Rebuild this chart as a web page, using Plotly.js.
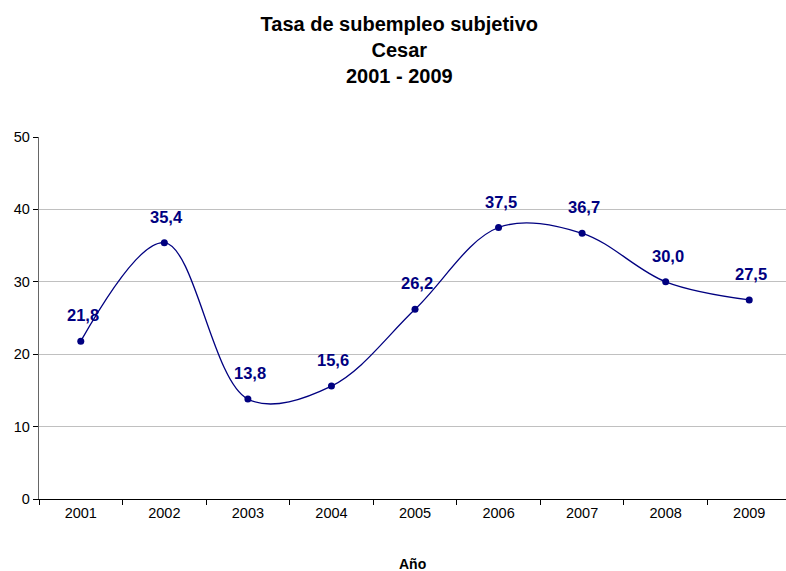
<!DOCTYPE html>
<html><head><meta charset="utf-8">
<script src="https://cdn.plot.ly/plotly-3.0.1.min.js"></script>
<style>html,body{margin:0;padding:0;background:#fff;overflow:hidden}</style>
</head><body><div id="chart" style="width:786px;height:571px"></div>
<script>
var years = ['2001','2002','2003','2004','2005','2006','2007','2008','2009'];
var values = [21.8, 35.4, 13.8, 15.6, 26.2, 37.5, 36.7, 30.0, 27.5];
var labels = ['21,8','35,4','13,8','15,6','26,2','37,5','36,7','30,0','27,5'];
var yTicks = [0, 10, 20, 30, 40, 50];

var FONT = 'Liberation Sans, Arial, sans-serif';
var navy = '#000080';
var trace = {
  x: years, y: values, type: 'scatter', mode: 'lines+markers',
  line: {shape: 'spline', smoothing: 1, color: navy, width: 1.3},
  marker: {color: navy, size: 7},
  hoverinfo: 'skip'
};
var ann = years.map(function(yr, i){
  return {xref: 'x', yref: 'y', x: i, y: values[i], text: '<b>' + labels[i] + '</b>', showarrow: false,
    xshift: 2, yshift: 26, font: {family: FONT, size: 16.5, color: navy}};
});
ann.push({xref: 'paper', yref: 'paper', x: 0.5, y: 0, yanchor: 'middle', yshift: -65, text: '<b>Año</b>', showarrow: false,
  font: {family: FONT, size: 14, color: '#000'}});

var layout = {
  width: 786, height: 571,
  margin: {l: 39, r: 0, t: 137, b: 72},
  paper_bgcolor: '#fff', plot_bgcolor: '#fff',
  showlegend: false,
  font: {family: FONT, color: '#000', size: 14},
  title: {text: '<b>Tasa de subempleo subjetivo<br>Cesar<br>2001 - 2009</b>', x: 0.508, xanchor: 'center', y: 0.946, yanchor: 'top',
    font: {size: 20, family: FONT, color: '#000'}},
  xaxis: {type: 'category', range: [-0.5, 8.44], showgrid: false, zeroline: false,
    showline: true, linecolor: '#000', linewidth: 1.2,
    ticks: 'outside', tickson: 'boundaries', ticklen: 5, tickcolor: '#000', tickwidth: 1,
    tickfont: {size: 14.5}, fixedrange: true},
  yaxis: {range: [0, 50], tickvals: yTicks, ticktext: yTicks.map(String), showgrid: true, gridcolor: '#c0c0c0', gridwidth: 1,
    zeroline: false, showline: true, linecolor: '#666', linewidth: 1.3,
    ticks: 'outside', ticklen: 5, tickcolor: '#000', tickfont: {size: 14.5}, fixedrange: true},
  annotations: ann
};
Plotly.newPlot('chart', [trace], layout, {displayModeBar: false, staticPlot: true});
</script></body></html>
